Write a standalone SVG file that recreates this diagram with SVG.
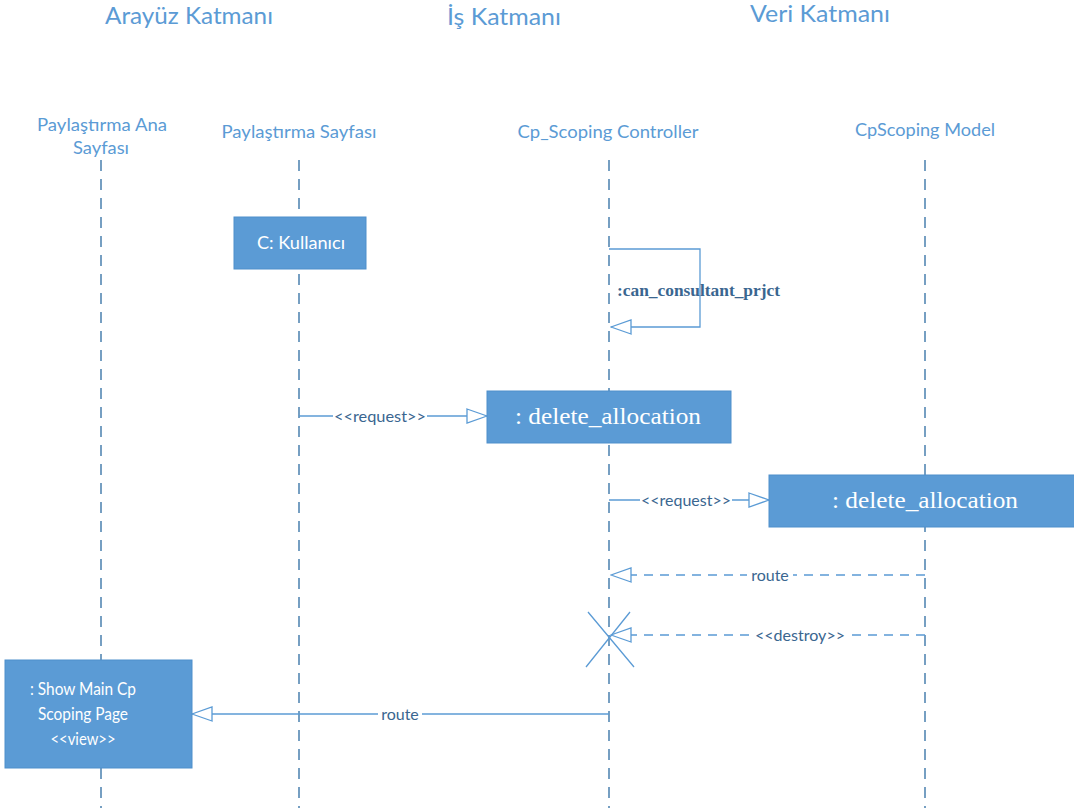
<svg xmlns="http://www.w3.org/2000/svg" width="1074" height="808" viewBox="0 0 1074 808">
  <defs>
    <style>
      .layer { font-family: Lato, "Open Sans", "Liberation Sans", sans-serif; font-size: 24px; fill: #5B9BD5; text-anchor: middle; }
      .lname { font-family: Lato, "Open Sans", "Liberation Sans", sans-serif; font-size: 18px; fill: #5B9BD5; text-anchor: middle; }
      .life { stroke: #4A80AE; stroke-width: 1.5; stroke-dasharray: 11 8; fill: none; }
      .box { fill: #5B9BD5; stroke: #4F8FCB; stroke-width: 1; }
      .btext { font-family: Lato, "Open Sans", "Liberation Sans", sans-serif; font-size: 17px; fill: #FFFFFF; text-anchor: middle; }
      .stext { font-family: "Liberation Serif", "DejaVu Serif", serif; font-size: 24px; fill: #FFFFFF; text-anchor: middle; }
      .msg { stroke: #5B9BD5; stroke-width: 1.3; fill: none; }
      .dash { stroke-dasharray: 9 7; }
      .mlabel { font-family: Lato, "Open Sans", "Liberation Sans", sans-serif; font-size: 16px; fill: #3A6690; text-anchor: middle; }
      .slabel { font-family: "Liberation Serif", "DejaVu Serif", serif; font-size: 17px; font-weight: bold; fill: #3A6690; }
      .lblbg { fill: #FFFFFF; }
    </style>
    <marker id="open" viewBox="0 0 22 16" refX="21" refY="8" markerWidth="22" markerHeight="16" markerUnits="userSpaceOnUse" orient="auto">
      <path d="M1,1 L21,8 L1,15 Z" fill="#FFFFFF" stroke="#5B9BD5" stroke-width="1.3"/>
    </marker>
  </defs>

  <rect width="1074" height="808" fill="#FFFFFF"/>

  <!-- layer headings -->
  <g id="layers">
    <text class="layer" x="189" y="24" textLength="168" lengthAdjust="spacingAndGlyphs">Arayüz Katmanı</text>
    <text class="layer" x="504" y="25" textLength="114" lengthAdjust="spacingAndGlyphs">İş Katmanı</text>
    <text class="layer" x="820" y="22" textLength="140" lengthAdjust="spacingAndGlyphs">Veri Katmanı</text>
  </g>

  <!-- lifelines -->
  <g id="lifeline-ana">
    <text class="lname" x="102" y="131" textLength="130" lengthAdjust="spacingAndGlyphs">Paylaştırma Ana</text>
    <text class="lname" x="101" y="154" textLength="56" lengthAdjust="spacingAndGlyphs">Sayfası</text>
    <line class="life" x1="101" y1="160" x2="101" y2="808"/>
  </g>
  <g id="lifeline-sayfa">
    <text class="lname" x="299" y="138" textLength="155" lengthAdjust="spacingAndGlyphs">Paylaştırma Sayfası</text>
    <line class="life" x1="299" y1="160" x2="299" y2="808"/>
  </g>
  <g id="lifeline-controller">
    <text class="lname" x="608" y="138" textLength="181" lengthAdjust="spacingAndGlyphs">Cp_Scoping Controller</text>
    <line class="life" x1="609" y1="160" x2="609" y2="808"/>
  </g>
  <g id="lifeline-model">
    <text class="lname" x="925" y="136" textLength="140" lengthAdjust="spacingAndGlyphs">CpScoping Model</text>
    <line class="life" x1="925" y1="160" x2="925" y2="808"/>
  </g>

  <!-- connectors -->
  <g id="connectors">
    <!-- self call -->
    <path class="msg" d="M609,249 H700 V327 H611" marker-end="url(#open)"/>
    <text class="slabel" x="617" y="296" textLength="163" lengthAdjust="spacingAndGlyphs">:can_consultant_prjct</text>

    <!-- request to controller -->
    <line class="msg" x1="299" y1="416" x2="487" y2="416" marker-end="url(#open)"/>
    <rect class="lblbg" x="333" y="408" width="94" height="16"/>
    <text class="mlabel" x="380" y="422" textLength="92" lengthAdjust="spacingAndGlyphs">&lt;&lt;request&gt;&gt;</text>

    <!-- request to model -->
    <line class="msg" x1="609" y1="500" x2="769" y2="500" marker-end="url(#open)"/>
    <rect class="lblbg" x="640" y="492" width="92" height="16"/>
    <text class="mlabel" x="686" y="506" textLength="90" lengthAdjust="spacingAndGlyphs">&lt;&lt;request&gt;&gt;</text>

    <!-- route back -->
    <line class="msg dash" x1="925" y1="575" x2="611" y2="575" marker-end="url(#open)"/>
    <rect class="lblbg" x="747" y="567" width="46" height="16"/>
    <text class="mlabel" x="770" y="581">route</text>

    <!-- destroy -->
    <line class="msg dash" x1="925" y1="635" x2="611" y2="635" marker-end="url(#open)"/>
    <rect class="lblbg" x="754" y="627" width="94" height="16"/>
    <text class="mlabel" x="800" y="641" textLength="90" lengthAdjust="spacingAndGlyphs">&lt;&lt;destroy&gt;&gt;</text>
    <path class="msg" d="M588,612 L634,667 M630,612 L586,667"/>

    <!-- route to view -->
    <line class="msg" x1="609" y1="714" x2="192" y2="714" marker-end="url(#open)"/>
    <rect class="lblbg" x="378" y="706" width="44" height="16"/>
    <text class="mlabel" x="400" y="720">route</text>
  </g>

  <!-- activation boxes -->
  <g id="node-kullanici">
    <rect class="box" x="234" y="217" width="132" height="52"/>
    <text class="btext" x="301" y="249" textLength="88" lengthAdjust="spacingAndGlyphs">C: Kullanıcı</text>
  </g>
  <g id="node-delete-controller">
    <rect class="box" x="487" y="391" width="244" height="52"/>
    <text class="stext" x="608" y="424" textLength="186" lengthAdjust="spacingAndGlyphs">: delete_allocation</text>
  </g>
  <g id="node-delete-model">
    <rect class="box" x="769" y="475" width="306" height="52"/>
    <text class="stext" x="925" y="508" textLength="186" lengthAdjust="spacingAndGlyphs">: delete_allocation</text>
  </g>
  <g id="node-show-page">
    <rect class="box" x="5" y="660" width="187" height="108"/>
    <text class="btext" x="83" y="695" textLength="106" lengthAdjust="spacingAndGlyphs">: Show Main Cp</text>
    <text class="btext" x="83" y="720" textLength="90" lengthAdjust="spacingAndGlyphs">Scoping Page</text>
    <text class="btext" x="83" y="745" textLength="65" lengthAdjust="spacingAndGlyphs">&lt;&lt;view&gt;&gt;</text>
  </g>
</svg>
